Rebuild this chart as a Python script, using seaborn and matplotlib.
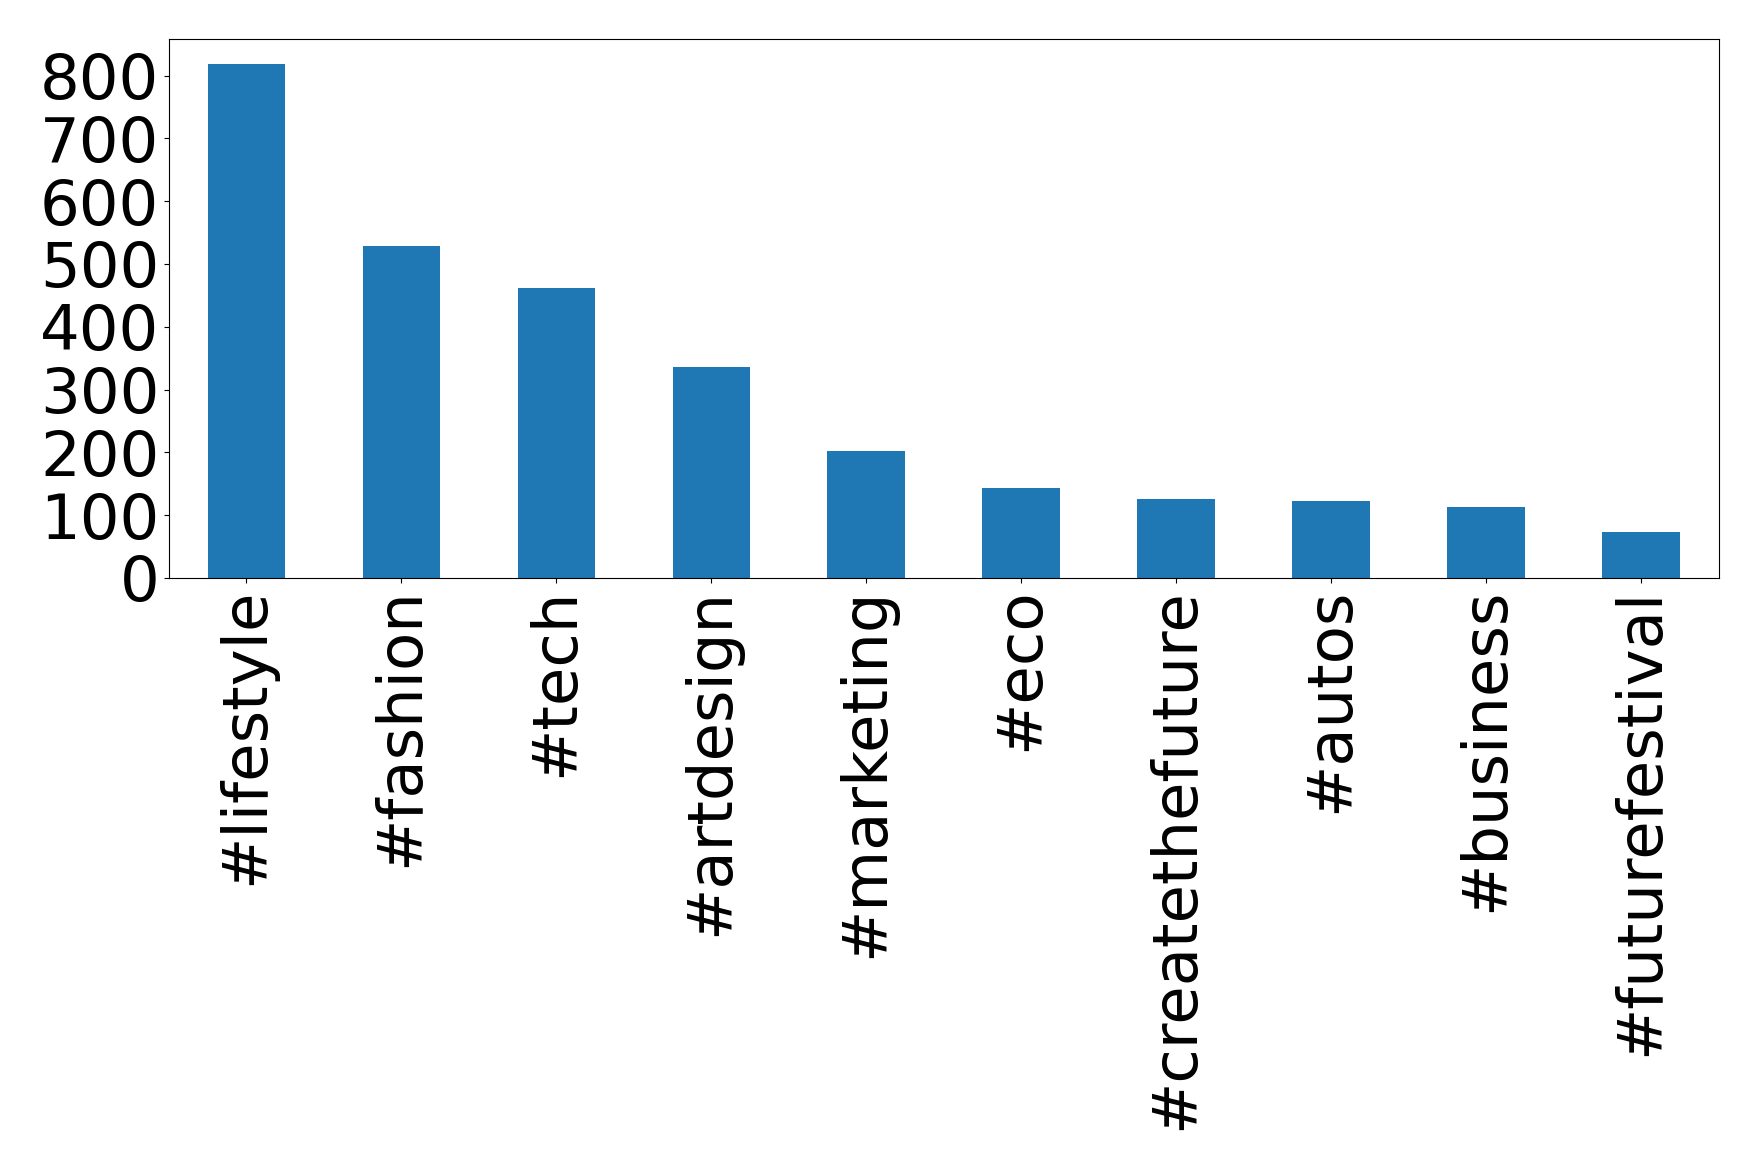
import pandas as pd
import matplotlib
matplotlib.use('Agg')
import matplotlib.pyplot as plt
import seaborn as sns

# Hashtag counts
hashtags = ['#lifestyle', '#fashion', '#tech', '#artdesign', '#marketing',
            '#eco', '#createthefuture', '#autos', '#business', '#futurefestival']
counts = [818, 528, 462, 336, 203, 144, 126, 123, 113, 74]

df = pd.DataFrame({'hashtag': hashtags, 'count': counts})

fig, ax = plt.subplots(figsize=(17.59, 11.70), dpi=100)
sns.barplot(data=df, x='hashtag', y='count', color='#1f77b4', width=0.5,
            saturation=1, ax=ax)
ax.set_xlim(-0.5, len(hashtags) - 0.5)
ax.set_xlabel('')
ax.set_ylabel('')
ax.tick_params(axis='both', labelsize=45)
ax.tick_params(axis='x', labelrotation=90)
ax.set_yticks(range(0, 801, 100))

fig.subplots_adjust(left=0.096, right=0.977, top=0.967, bottom=0.506)
fig.savefig('out.png', dpi=100)
plt.close()
